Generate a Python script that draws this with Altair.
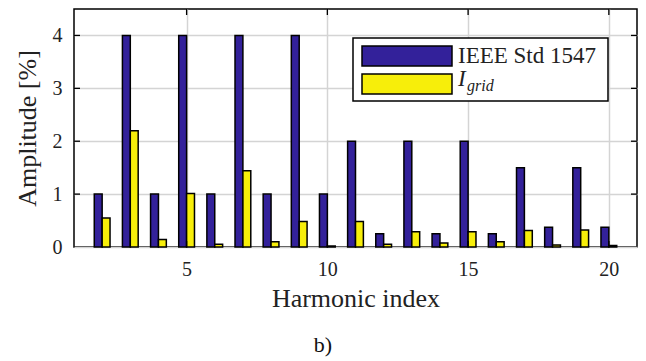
import altair as alt
import pandas as pd

harmonics = list(range(2, 21))
ieee = [1, 4, 1, 4, 1, 4, 1, 4, 1, 2, 0.25, 2, 0.25, 2, 0.25, 1.5, 0.375, 1.5, 0.375]
igrid = [0.55, 2.2, 0.14, 1.01, 0.05, 1.44, 0.1, 0.48, 0.02, 0.48, 0.05, 0.29, 0.075, 0.29, 0.1, 0.31, 0.04, 0.32, 0.03]
series_names = ["IEEE Std 1547", "I_grid"]
x_ticks = [5, 10, 15, 20]
y_ticks = [0, 1, 2, 3, 4]

BLUE = "#33219a"
YELLOW = "#f7ee0a"
FONT = "'Liberation Serif', 'Times New Roman', 'DejaVu Serif', serif"
W, H = 563, 238

df = pd.DataFrame({"h": harmonics, "ieee": ieee, "igrid": igrid})
xt = pd.DataFrame({"t": x_ticks})
yt = pd.DataFrame({"t": y_ticks[1:]})
one = pd.DataFrame({"a": [0]})

xscale = alt.Scale(domain=[1, 21], nice=False)
yscale = alt.Scale(domain=[0, 4.5], nice=False)

xaxis = alt.Axis(values=x_ticks, title="Harmonic index", grid=True, ticks=False,
                 labelFontSize=20, labelPadding=12, titleFontSize=26, titlePadding=6,
                 titleFontWeight="normal", labelFont=FONT, titleFont=FONT,
                 labelColor="#222", titleColor="#222", domain=False,
                 gridColor="#d4d4d4", gridWidth=1.5)
yaxis = alt.Axis(values=y_ticks, title="Amplitude [%]", grid=True, ticks=False,
                 labelFontSize=20, labelPadding=12, titleFontSize=26, titlePadding=12,
                 titleFontWeight="normal", labelFont=FONT, titleFont=FONT,
                 labelColor="#222", titleColor="#222", domain=False,
                 gridColor="#d4d4d4", gridWidth=1.5)

blue = alt.Chart(df).transform_calculate(
    x0="datum.h - 0.28", x1="datum.h"
).mark_bar(color=BLUE, stroke="black", strokeWidth=1.5).encode(
    x=alt.X("x0:Q", scale=xscale, axis=xaxis),
    x2="x1:Q",
    y=alt.Y("ieee:Q", scale=yscale, axis=yaxis),
    y2=alt.datum(0),
)
yellow = alt.Chart(df).transform_calculate(
    x0="datum.h", x1="datum.h + 0.28"
).mark_bar(color=YELLOW, stroke="black", strokeWidth=1.5).encode(
    x=alt.X("x0:Q", scale=xscale),
    x2="x1:Q",
    y=alt.Y("igrid:Q", scale=yscale),
    y2=alt.datum(0),
)

tick_style = dict(color="black", strokeWidth=1.3)
ticks_top = alt.Chart(xt).mark_rule(**tick_style).encode(
    x=alt.X("t:Q", scale=xscale), y=alt.value(0), y2=alt.value(6))
ticks_bot = alt.Chart(xt).mark_rule(**tick_style).encode(
    x=alt.X("t:Q", scale=xscale), y=alt.value(H - 6), y2=alt.value(H))
ticks_left = alt.Chart(yt).mark_rule(**tick_style).encode(
    y=alt.Y("t:Q", scale=yscale), x=alt.value(0), x2=alt.value(6))
ticks_right = alt.Chart(yt).mark_rule(**tick_style).encode(
    y=alt.Y("t:Q", scale=yscale), x=alt.value(W - 6), x2=alt.value(W))

# legend (manual, to allow subscript)
leg_box = alt.Chart(one).mark_rect(fill="white", stroke="black", strokeWidth=1.5).encode(
    x=alt.value(279), x2=alt.value(534), y=alt.value(29), y2=alt.value(92))
leg_blue = alt.Chart(one).mark_rect(fill=BLUE, stroke="black", strokeWidth=1.5).encode(
    x=alt.value(288), x2=alt.value(378), y=alt.value(37), y2=alt.value(57))
leg_yellow = alt.Chart(one).mark_rect(fill=YELLOW, stroke="black", strokeWidth=1.5).encode(
    x=alt.value(288), x2=alt.value(378), y=alt.value(65), y2=alt.value(85))
leg_t1 = alt.Chart(one).mark_text(text=series_names[0], font=FONT, fontSize=23, align="left",
                                  baseline="alphabetic", color="#222").encode(
    x=alt.value(384), y=alt.value(54))
leg_t2 = alt.Chart(one).mark_text(text="I", font=FONT, fontSize=23, fontStyle="italic", align="left",
                                  baseline="alphabetic", color="#222").encode(
    x=alt.value(384), y=alt.value(77))
leg_t3 = alt.Chart(one).mark_text(text="grid", font=FONT, fontSize=16, fontStyle="italic", align="left",
                                  baseline="alphabetic", color="#222").encode(
    x=alt.value(393), y=alt.value(82))

caption = alt.Chart(one).mark_text(text="b)", font=FONT, fontSize=22, align="center",
                                   baseline="middle", color="#111").encode(
    x=alt.value(323 - 74), y=alt.value(345 - 9))

chart = alt.layer(
    blue, yellow, ticks_top, ticks_bot, ticks_left, ticks_right,
    leg_box, leg_blue, leg_yellow, leg_t1, leg_t2, leg_t3, caption
).properties(
    width=W, height=H,
    autosize=alt.AutoSizeParams(type="none"),
    padding={"left": 74, "top": 9, "right": 9, "bottom": 114},
    background="white",
).configure_view(stroke="black", strokeWidth=1.5)

chart.save("out.html", embed_options={"renderer": "svg", "actions": False})
